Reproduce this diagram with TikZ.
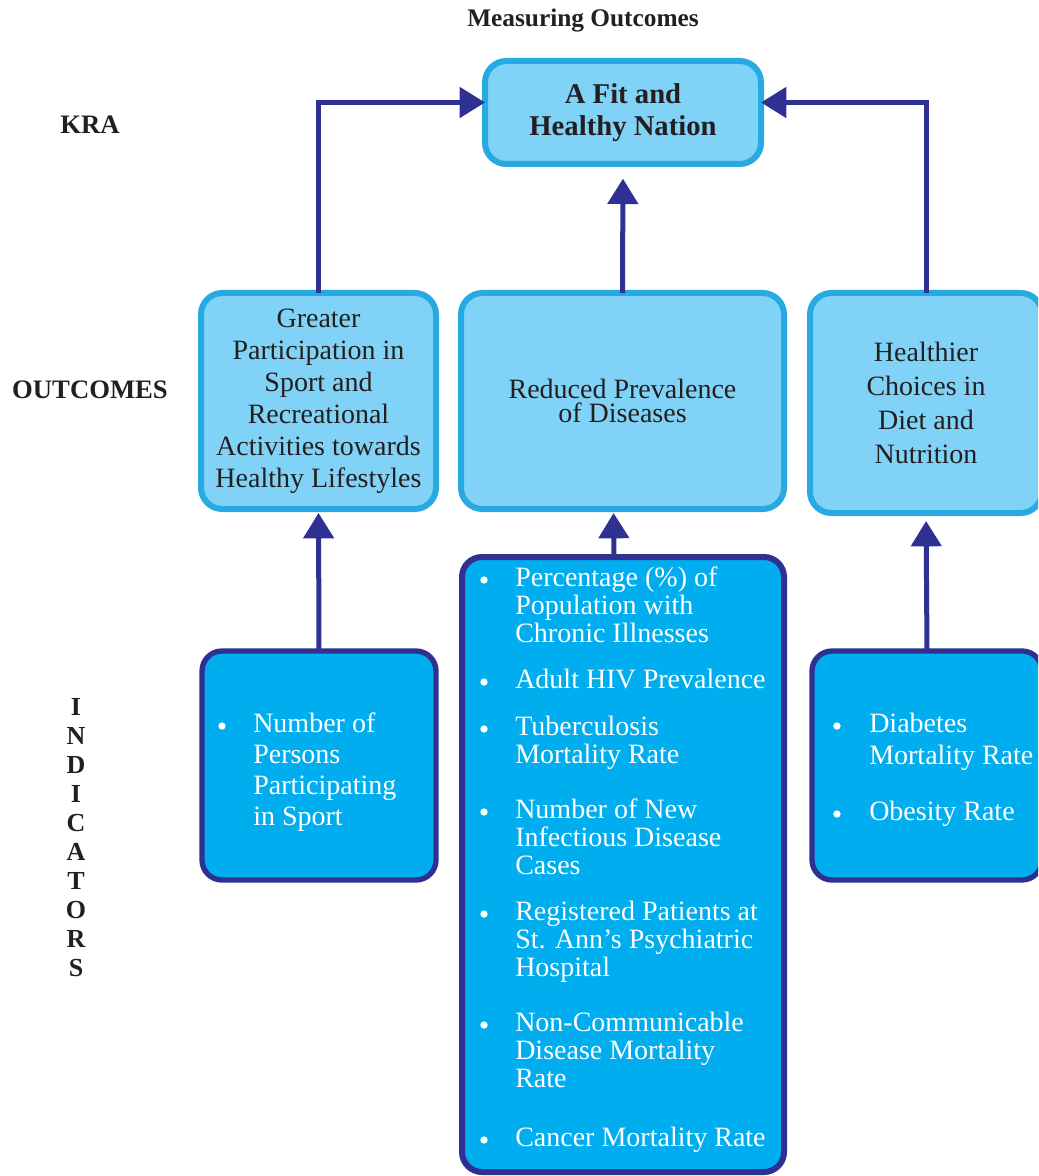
\documentclass[tikz,border=0pt]{standalone}
\usepackage{fontspec}
\setmainfont{Liberation Serif}
\usetikzlibrary{arrows.meta,calc}
\definecolor{navy}{HTML}{2E3192}
\definecolor{skyfill}{HTML}{80D3F7}
\definecolor{skyline}{HTML}{27AAE1}
\definecolor{cyanfill}{HTML}{00AEEF}
\definecolor{ink}{HTML}{231F20}
% fixed height for the first line of a list entry
\newcommand\itemtop{\rule{0pt}{17pt}}
\begin{document}
\begin{tikzpicture}[x=0.75pt,y=-0.75pt,
  kra/.style={draw=skyline, fill=skyfill, line width=4.5pt, rounded corners=16pt,
    inner sep=0pt, outer sep=0pt, align=center, text=ink,
    font=\bfseries\fontsize{21.5}{24}\selectfont},
  outcome/.style={draw=skyline, fill=skyfill, line width=4.5pt, rounded corners=16pt,
    inner sep=0pt, outer sep=0pt, align=center, text=ink},
  indic/.style={draw=navy, fill=cyanfill, line width=4pt, rounded corners=15pt,
    inner sep=0pt, outer sep=0pt},
  entry/.style={anchor=north west, yshift=17pt, inner sep=0pt, align=left,
    text=white, font=\fontsize{21}{21}\selectfont},
  dot/.style={circle, fill=white, inner sep=0pt, minimum size=5.5pt},
  label/.style={text=ink, inner sep=0pt, font=\bfseries\fontsize{20}{20}\selectfont},
  arr/.style={draw=navy, line width=3.75pt, -{Triangle[width=22.5pt,length=19pt]}},
]
\useasboundingbox (0,0) rectangle (1038,1176);
\clip (0,0) rectangle (1038,1176);

% headings and row labels
\node[label, font=\bfseries\fontsize{19}{19}\selectfont] (title) at (583,21) {Measuring Outcomes};
\node[label] (lkra) at (90,125) {KRA};
\node[label] (lout) at (90,390) {OUTCOMES};
\node[label, align=center, font=\bfseries\fontsize{19.5}{21.75}\selectfont] (lind) at (76,838)
  {I\\N\\D\\I\\C\\A\\T\\O\\R\\S};

% key result area
\node[kra, minimum width=207pt, minimum height=77.25pt] (top) at (623,112.5)
  {A Fit and\\Healthy Nation};

% outcomes
\node[outcome, minimum width=176.25pt, minimum height=162pt,
  font=\fontsize{21}{24}\selectfont] (o1) at (318.5,401)
  {Greater\\Participation in\\Sport and\\Recreational\\Activities towards\\Healthy Lifestyles};
\node[outcome, minimum width=242.25pt, minimum height=162pt,
  font=\fontsize{21}{17.5}\selectfont] (o2) at (622.5,401)
  {Reduced Prevalence\\of Diseases};
\node[outcome, minimum width=174pt, minimum height=165pt,
  font=\fontsize{21}{25.5}\selectfont] (o3) at (926,403)
  {Healthier\\Choices in\\Diet and\\Nutrition};

% indicator boxes
\node[indic, minimum width=175.5pt, minimum height=171.75pt] (i1) at (319,765.5) {};
\node[indic, line width=4.5pt, minimum width=241.5pt, minimum height=461.25pt] (i2) at (623,864.5) {};
\node[indic, minimum width=172.5pt, minimum height=171.75pt] (i3) at (927,765.5) {};

% indicators: sport
\node[dot] (d11) at (222,726) {};
\node[entry, font=\fontsize{21}{23.25}\selectfont] (t11) at (253,732)
  {\itemtop Number of\\Persons\\Participating\\in Sport};

% indicators: diseases
\node[dot] (d21) at (484,580) {};
\node[entry] (t21) at (515,586) {\itemtop Percentage (\%) of\\Population with\\Chronic Illnesses};
\node[dot] (d22) at (484,682) {};
\node[entry] (t22) at (515,688) {\itemtop Adult HIV Prevalence};
\node[dot] (d23) at (484,729) {};
\node[entry] (t23) at (515,735) {\itemtop Tuberculosis\\Mortality Rate};
\node[dot] (d24) at (484,812) {};
\node[entry] (t24) at (515,818) {\itemtop Number of New\\Infectious Disease\\Cases};
\node[dot] (d25) at (484,914) {};
\node[entry] (t25) at (515,920) {\itemtop Registered Patients at\\St. Ann’s Psychiatric\\Hospital};
\node[dot] (d26) at (484,1025) {};
\node[entry] (t26) at (515,1031) {\itemtop Non-Communicable\\Disease Mortality\\Rate};
\node[dot] (d27) at (484,1140) {};
\node[entry] (t27) at (515,1146) {\itemtop Cancer Mortality Rate};

% indicators: diet
\node[dot] (d31) at (837,726) {};
\node[entry, font=\fontsize{21}{24}\selectfont] (t31) at (869,732)
  {\itemtop Diabetes\\Mortality Rate};
\node[dot] (d32) at (837,814) {};
\node[entry] (t32) at (869,820) {\itemtop Obesity Rate};

% connectors
\draw[arr] (o1.north) |- ($(top.west)+(0,-10)$);
\draw[arr] (o3.north) |- ($(top.east)+(0,-10)$);
\draw[arr, shorten >=11pt] (o2.north) -- (top.south);
\draw[arr, shorten >=3pt] (i1.north) -- (o1.south);
\draw[arr, shorten >=3pt] ($(i2.north)+(-9,0)$) -- ($(o2.south)+(-9,0)$);
\draw[arr, shorten >=6pt] (i3.north) -- (o3.south);
\end{tikzpicture}
\end{document}
